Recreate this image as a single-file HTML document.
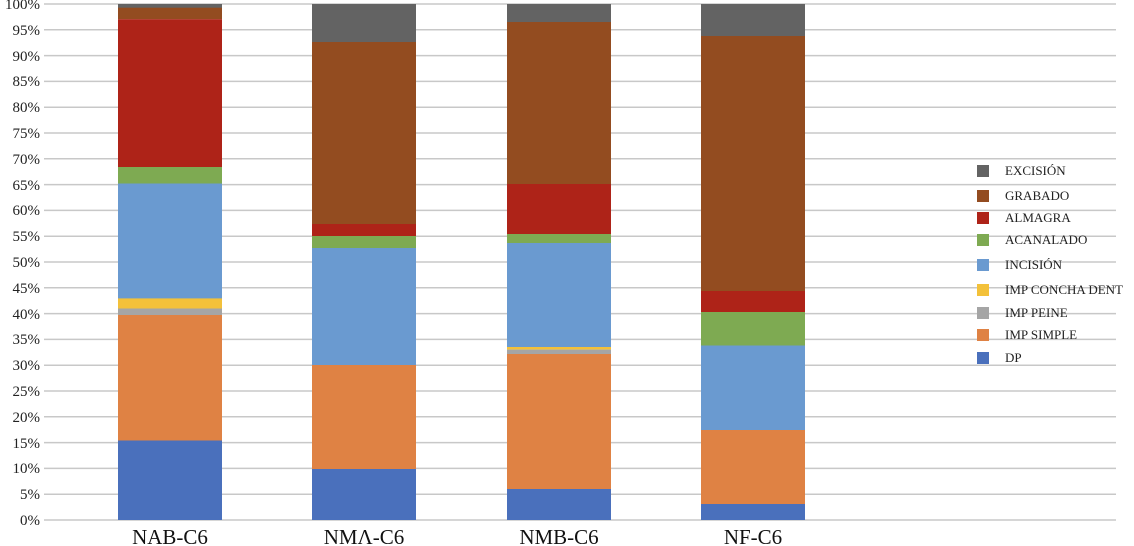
<!DOCTYPE html>
<html><head><meta charset="utf-8"><style>
body{margin:0;background:#fff}
svg{display:block;font-family:"Liberation Serif",serif}
</style></head><body>
<svg width="1134" height="546" xmlns="http://www.w3.org/2000/svg">
<g stroke="#c8c8c8" stroke-width="1.5">
<line x1="44" x2="1116" y1="4" y2="4"/><line x1="44" x2="1116" y1="29.8" y2="29.8"/><line x1="44" x2="1116" y1="55.6" y2="55.6"/><line x1="44" x2="1116" y1="81.4" y2="81.4"/><line x1="44" x2="1116" y1="107.2" y2="107.2"/><line x1="44" x2="1116" y1="133" y2="133"/><line x1="44" x2="1116" y1="158.8" y2="158.8"/><line x1="44" x2="1116" y1="184.6" y2="184.6"/><line x1="44" x2="1116" y1="210.4" y2="210.4"/><line x1="44" x2="1116" y1="236.2" y2="236.2"/><line x1="44" x2="1116" y1="262" y2="262"/><line x1="44" x2="1116" y1="287.8" y2="287.8"/><line x1="44" x2="1116" y1="313.6" y2="313.6"/><line x1="44" x2="1116" y1="339.4" y2="339.4"/><line x1="44" x2="1116" y1="365.2" y2="365.2"/><line x1="44" x2="1116" y1="391" y2="391"/><line x1="44" x2="1116" y1="416.8" y2="416.8"/><line x1="44" x2="1116" y1="442.6" y2="442.6"/><line x1="44" x2="1116" y1="468.4" y2="468.4"/><line x1="44" x2="1116" y1="494.2" y2="494.2"/><line x1="44" x2="1116" y1="520" y2="520"/>
</g>
<g font-size="15" text-anchor="end" fill="#222">
<text x="40" y="9">100%</text><text x="40" y="35">95%</text><text x="40" y="61">90%</text><text x="40" y="86">85%</text><text x="40" y="112">80%</text><text x="40" y="138">75%</text><text x="40" y="164">70%</text><text x="40" y="190">65%</text><text x="40" y="215">60%</text><text x="40" y="241">55%</text><text x="40" y="267">50%</text><text x="40" y="293">45%</text><text x="40" y="319">40%</text><text x="40" y="344">35%</text><text x="40" y="370">30%</text><text x="40" y="396">25%</text><text x="40" y="422">20%</text><text x="40" y="448">15%</text><text x="40" y="473">10%</text><text x="40" y="499">5%</text><text x="40" y="525">0%</text>
</g>
<g transform="translate(118,0)">
<rect y="4" width="104" height="4" fill="#636363"/>
<rect y="7.7" width="104" height="11.5" fill="#934c20"/>
<rect y="19.2" width="104" height="148" fill="#ae2318"/>
<rect y="167" width="104" height="16.5" fill="#7eaa52"/>
<rect y="183.5" width="104" height="115" fill="#6a9ad0"/>
<rect y="298.4" width="104" height="10.1" fill="#f3c13a"/>
<rect y="308.5" width="104" height="6.5" fill="#a5a5a5"/>
<rect y="315" width="104" height="125.5" fill="#df8244"/>
<rect y="440.5" width="104" height="79.5" fill="#4a70bc"/>
</g>
<g transform="translate(312,0)">
<rect y="4" width="104" height="38" fill="#636363"/>
<rect y="42" width="104" height="182" fill="#934c20"/>
<rect y="224" width="104" height="12" fill="#ae2318"/>
<rect y="236" width="104" height="12" fill="#7eaa52"/>
<rect y="248" width="104" height="117" fill="#6a9ad0"/>
<rect y="365" width="104" height="104" fill="#df8244"/>
<rect y="469" width="104" height="51" fill="#4a70bc"/>
</g>
<g transform="translate(507,0)">
<rect y="4" width="104" height="18" fill="#636363"/>
<rect y="22" width="104" height="162" fill="#934c20"/>
<rect y="184" width="104" height="50" fill="#ae2318"/>
<rect y="234" width="104" height="9" fill="#7eaa52"/>
<rect y="243" width="104" height="104" fill="#6a9ad0"/>
<rect y="347" width="104" height="2.6" fill="#f3c13a"/>
<rect y="349.6" width="104" height="4.4" fill="#a5a5a5"/>
<rect y="354" width="104" height="135" fill="#df8244"/>
<rect y="489" width="104" height="31" fill="#4a70bc"/>
</g>
<g transform="translate(701,0)">
<rect y="4" width="104" height="32" fill="#636363"/>
<rect y="36" width="104" height="255" fill="#934c20"/>
<rect y="291" width="104" height="21" fill="#ae2318"/>
<rect y="312" width="104" height="33.5" fill="#7eaa52"/>
<rect y="345.5" width="104" height="84.5" fill="#6a9ad0"/>
<rect y="430" width="104" height="74" fill="#df8244"/>
<rect y="504" width="104" height="16" fill="#4a70bc"/>
</g>
<g font-size="21" text-anchor="middle" fill="#111">
<text x="170" y="544">NAB-C6</text><text x="364" y="544">NMΛ-C6</text><text x="559" y="544">NMB-C6</text><text x="753" y="544">NF-C6</text>
</g>
<g font-size="13" fill="#222">
<rect x="977" y="165" width="12" height="12" fill="#636363"/><text x="1005" y="175">EXCISIÓN</text>
<rect x="977" y="190" width="12" height="12" fill="#934c20"/><text x="1005" y="200">GRABADO</text>
<rect x="977" y="212" width="12" height="12" fill="#ae2318"/><text x="1005" y="222">ALMAGRA</text>
<rect x="977" y="234" width="12" height="12" fill="#7eaa52"/><text x="1005" y="244">ACANALADO</text>
<rect x="977" y="259" width="12" height="12" fill="#6a9ad0"/><text x="1005" y="269">INCISIÓN</text>
<rect x="977" y="284" width="12" height="12" fill="#f3c13a"/><text x="1005" y="294">IMP CONCHA DENT</text>
<rect x="977" y="307" width="12" height="12" fill="#a5a5a5"/><text x="1005" y="317">IMP PEINE</text>
<rect x="977" y="329" width="12" height="12" fill="#df8244"/><text x="1005" y="339">IMP SIMPLE</text>
<rect x="977" y="352" width="12" height="12" fill="#4a70bc"/><text x="1005" y="362">DP</text>
</g>
</svg>
</body></html>
